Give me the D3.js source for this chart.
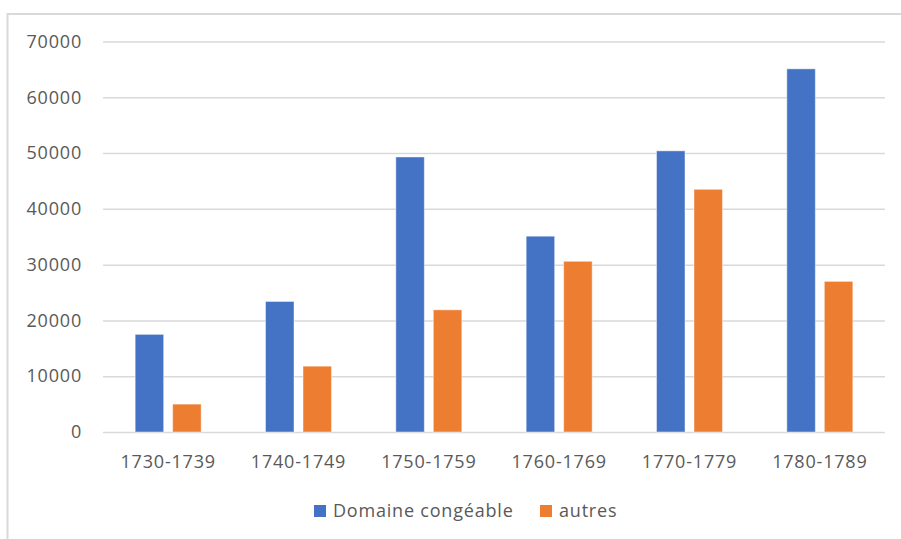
<!DOCTYPE html>
<meta charset="utf-8">
<script src="https://d3js.org/d3.v7.min.js"></script>
<style>
body { margin: 0; background: #fff; }
text { font-family: "Open Sans", sans-serif; fill: #595959; }
</style>
<body>
<script>

// data
var periods = ["1730-1739", "1740-1749", "1750-1759", "1760-1769", "1770-1779", "1780-1789"];
var seriesNames = ["Domaine congéable", "autres"];
var domaine = [17500, 23400, 49300, 35100, 50400, 65100];
var autres = [5000, 11800, 21900, 30600, 43500, 27000];
var yTicks = [0, 10000, 20000, 30000, 40000, 50000, 60000, 70000];
var colors = ["#4472C4", "#ED7D31"];

var width = 901, height = 539;
var plotLeft = 103, plotRight = 885, plotTop = 41.5, plotBottom = 432;

var svg = d3.select("body").append("svg")
    .attr("width", width)
    .attr("height", height);

// chart frame (only left and top edges show)
svg.append("rect")
    .attr("x", 7.5).attr("y", 14)
    .attr("width", 1000).attr("height", 1000)
    .attr("fill", "none")
    .attr("stroke", "#d9d9d9")
    .attr("stroke-width", 2);

var y = d3.scaleLinear().domain([0, 70000]).range([plotBottom, plotTop]);

var x0 = d3.scaleBand().domain(periods).range([plotLeft, plotRight]);
var groupW = 66;
var x1 = d3.scaleBand().domain(seriesNames)
    .range([(x0.bandwidth() - groupW) / 2, (x0.bandwidth() + groupW) / 2])
    .paddingInner(0.24);

// gridlines + y labels
var yAxis = svg.append("g")
    .attr("transform", "translate(" + plotLeft + ",0)")
    .call(d3.axisLeft(y).tickValues(yTicks).tickSize(-(plotRight - plotLeft)).tickPadding(21).tickFormat(d3.format("d")));
yAxis.select(".domain").remove();
yAxis.selectAll("line").attr("stroke", "#d9d9d9").attr("stroke-width", 1.5);
yAxis.selectAll("text")
    .style("font-size", "18px")
    .style("letter-spacing", "0.8px")
    .attr("fill", "#595959");

// bars
var rows = periods.map(function(p, i) {
    return {period: p, values: [domaine[i], autres[i]]};
});

var groups = svg.selectAll(".grp")
    .data(rows)
    .enter().append("g")
    .attr("class", "grp")
    .attr("transform", function(d) { return "translate(" + x0(d.period) + ",0)"; });

groups.selectAll("rect")
    .data(function(d) {
        return d.values.map(function(v, j) { return {name: seriesNames[j], value: v, j: j}; });
    })
    .enter().append("rect")
    .attr("x", function(d) { return x1(d.name); })
    .attr("width", x1.bandwidth())
    .attr("y", function(d) { return y(d.value); })
    .attr("height", function(d) { return plotBottom - y(d.value); })
    .attr("fill", function(d) { return colors[d.j]; })
    .attr("stroke", "#ffffff")
    .attr("stroke-opacity", 0.45)
    .attr("stroke-width", 1);

// category labels
var xAxis = svg.append("g")
    .attr("transform", "translate(0," + plotBottom + ")")
    .call(d3.axisBottom(x0).tickSize(0));
xAxis.select(".domain").remove();
xAxis.selectAll("text")
    .attr("y", 36).attr("dy", 0)
    .style("font-size", "18px")
    .style("letter-spacing", "0.8px")
    .attr("fill", "#595959");

// legend
var legendX = [314, 540];
var legend = svg.selectAll(".leg")
    .data(seriesNames)
    .enter().append("g")
    .attr("class", "leg")
    .attr("transform", function(d, i) { return "translate(" + legendX[i] + ",505)"; });

legend.append("rect")
    .attr("width", 12).attr("height", 12)
    .attr("fill", function(d, i) { return colors[i]; });

legend.append("text")
    .attr("x", 19).attr("y", 11.5)
    .style("font-size", "18px")
    .style("letter-spacing", "0.8px")
    .text(function(d) { return d; });

</script>
</body>
